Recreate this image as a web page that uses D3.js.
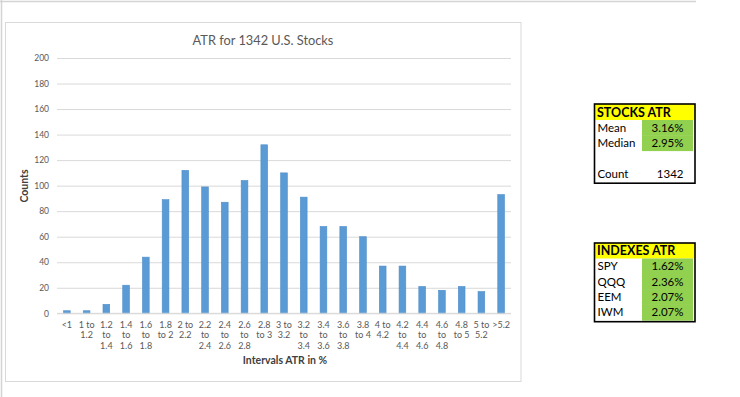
<!DOCTYPE html>
<html>
<head>
<meta charset="utf-8">
<script src="https://cdn.jsdelivr.net/npm/d3@7"></script>
<style>
  html, body { margin: 0; padding: 0; background: #fff; }
  svg { display: block; }
  text { font-family: Lato, "Open Sans", sans-serif; }
</style>
</head>
<body>
<svg id="chart" width="740" height="397"></svg>
<script>
// ---- data ----
const categories = ["<1", "1 to 1.2", "1.2 to 1.4", "1.4 to 1.6", "1.6 to 1.8", "1.8 to 2",
  "2 to 2.2", "2.2 to 2.4", "2.4 to 2.6", "2.6 to 2.8", "2.8 to 3", "3 to 3.2",
  "3.2 to 3.4", "3.4 to 3.6", "3.6 to 3.8", "3.8 to 4", "4 to 4.2", "4.2 to 4.4",
  "4.4 to 4.6", "4.6 to 4.8", "4.8 to 5", "5 to 5.2", ">5.2"];
const counts = [2, 2, 7, 22, 44, 89, 112, 99, 87, 104, 132, 110, 91, 68, 68, 60, 37, 37, 21, 18, 21, 17, 93];
const yTicks = [0, 20, 40, 60, 80, 100, 120, 140, 160, 180, 200];
const chartTitle = "ATR for 1342 U.S. Stocks";
const xTitle = "Intervals ATR in %";
const yTitle = "Counts";

const stocksHeader = "STOCKS ATR";
const stocksLabels = ["Mean", "Median", "", "Count"];
const stocksValues = ["3.16%", "2.95%", "", "1342"];
const stocksGreen = [true, true, false, false];

const indexesHeader = "INDEXES ATR";
const indexesLabels = ["SPY", "QQQ", "EEM", "IWM"];
const indexesValues = ["1.62%", "2.36%", "2.07%", "2.07%"];
const indexesGreen = [true, true, true, true];

// ---- drawing ----
const svg = d3.select("#chart");

// outer sheet frame lines
svg.append("line").attr("x1", 0).attr("x2", 696).attr("y1", 1.5).attr("y2", 1.5)
  .attr("stroke", "#d4d4d4").attr("stroke-width", 1.5);
svg.append("line").attr("x1", 1.5).attr("x2", 1.5).attr("y1", 0).attr("y2", 397)
  .attr("stroke", "#d4d4d4").attr("stroke-width", 1.5);

// chart box
svg.append("rect").attr("x", 5.5).attr("y", 22.5).attr("width", 515.5).attr("height", 359)
  .attr("fill", "#fff").attr("stroke", "#d9d9d9").attr("stroke-width", 1);

const plot = { left: 57, right: 511, top: 58, bottom: 313.3 };

const x = d3.scaleBand().domain(categories).range([plot.left, plot.right])
  .paddingInner(0.66).paddingOuter(0.33);
const y = d3.scaleLinear().domain([0, 200]).range([plot.bottom, plot.top]);

// gridlines via axis
const yAxis = d3.axisLeft(y).tickValues(yTicks).tickSize(-(plot.right - plot.left)).tickPadding(8);
const gy = svg.append("g").attr("transform", `translate(${plot.left},0)`).call(yAxis);
gy.select(".domain").remove();
gy.selectAll(".tick line").attr("stroke", "#d9d9d9").attr("stroke-width", 1);
gy.selectAll(".tick text").attr("fill", "#595959").attr("font-size", 8.5)
  .attr("font-family", "Lato, sans-serif");

// bars
svg.append("g").selectAll("rect").data(counts).join("rect")
  .attr("x", (d, i) => x(categories[i]))
  .attr("y", d => y(d))
  .attr("width", x.bandwidth())
  .attr("height", d => y(0) - y(d))
  .attr("fill", "#5b9bd5")
  .attr("stroke", "#4f8dc9")
  .attr("stroke-width", 0.6);

// x axis labels (wrapped)
function wrapLabel(s, maxChars) {
  const words = s.split(" ");
  const lines = [];
  let cur = "";
  words.forEach(w => {
    const test = cur ? cur + " " + w : w;
    if (test.length <= maxChars || !cur) cur = test;
    else { lines.push(cur); cur = w; }
  });
  if (cur) lines.push(cur);
  return lines;
}
const xAxis = d3.axisBottom(x).tickSize(0).tickPadding(0);
const gx = svg.append("g").attr("transform", `translate(0,${plot.bottom})`).call(xAxis);
gx.select(".domain").attr("stroke", "#d9d9d9").attr("d", `M${plot.left},0H${plot.right}`);
gx.selectAll(".tick text").each(function(d) {
  const t = d3.select(this);
  t.text(null).attr("fill", "#595959").attr("font-size", 9)
    .attr("font-family", "Lato, sans-serif").attr("dy", null).attr("y", 0);
  wrapLabel(d, 4).forEach((ln, k) => {
    t.append("tspan").attr("x", 0).attr("y", 14.5 + k * 10.5).text(ln);
  });
});

// titles
svg.append("text").attr("x", 263).attr("y", 45).attr("text-anchor", "middle")
  .attr("font-size", 12.8).attr("fill", "#595959").text(chartTitle);
svg.append("text").attr("x", 285).attr("y", 364).attr("text-anchor", "middle")
  .attr("font-size", 10.5).attr("font-weight", "bold").attr("fill", "#404040").text(xTitle);
svg.append("text").attr("transform", "translate(28,186) rotate(-90)").attr("text-anchor", "middle")
  .attr("font-size", 10.5).attr("font-weight", "bold").attr("fill", "#404040").text(yTitle);

// tables
function drawTable(top, header, labels, values, green, rowH, headerH) {
  const left = 594.5, right = 695, splitX = 642, greenRight = 693;
  const g = svg.append("g");
  const height = headerH + labels.length * rowH + 2;
  g.append("rect").attr("x", left).attr("y", top).attr("width", right - left).attr("height", headerH)
    .attr("fill", "#ffff00");
  labels.forEach((l, i) => {
    const ry = top + headerH + i * rowH;
    if (green[i]) {
      g.append("rect").attr("x", splitX).attr("y", ry).attr("width", greenRight - splitX)
        .attr("height", rowH + (i === labels.length - 1 ? 1 : 0.5)).attr("fill", "#92d050");
    }
    g.append("text").attr("x", 597.5).attr("y", ry + rowH - 3.5).attr("font-size", 11.5)
      .attr("fill", "#000").text(l);
    g.append("text").attr("x", 683.5).attr("y", ry + rowH - 3.5).attr("font-size", 11.5)
      .attr("text-anchor", "end").attr("fill", "#000").text(values[i]);
  });
  g.append("text").attr("x", 597).attr("y", top + headerH - 3.5).attr("font-size", 12.5)
    .attr("font-weight", "bold").attr("fill", "#000").text(header);
  g.append("rect").attr("x", left).attr("y", top).attr("width", right - left).attr("height", height)
    .attr("fill", "none").attr("stroke", "#000").attr("stroke-width", 1.6);
}
drawTable(104, stocksHeader, stocksLabels, stocksValues, stocksGreen, 15.3, 16);
drawTable(243, indexesHeader, indexesLabels, indexesValues, indexesGreen, 15.3, 15.5);
</script>
</body>
</html>
